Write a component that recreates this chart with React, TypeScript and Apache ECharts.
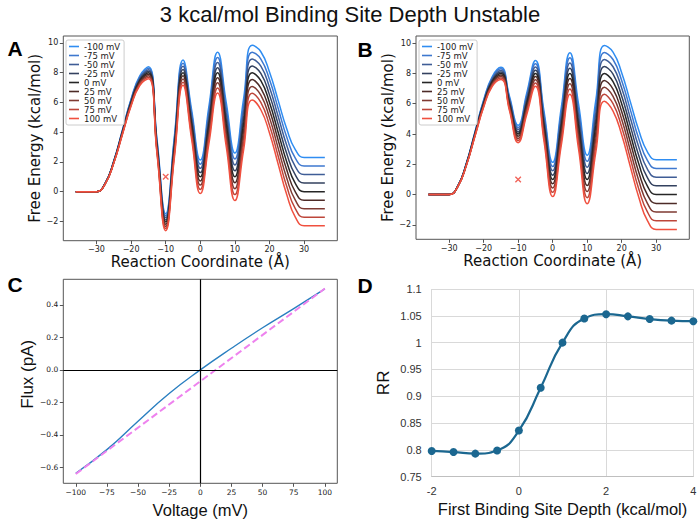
import React, { useEffect, useRef } from 'react';
import * as echarts from 'echarts';

// ---------- Panel A / B : free-energy profiles ----------
const reactionCoord = [-36, -33, -30, -27.5, -25, -22.5, -20, -17.5, -15, -12.5, -10, -7.5, -5, -2.5, 0, 2.5, 5, 7.5, 10, 12.5, 15, 17.5, 20, 22.5, 25, 27.5, 30, 33, 36];

const voltageLabels = ['-100 mV', '-75 mV', '-50 mV', '-25 mV', '0 mV', '25 mV', '50 mV', '75 mV', '100 mV'];
const voltageColors = ['#2f8df2', '#3e78cf', '#3f5d96', '#33415f', '#262626', '#4d2b27', '#7f3a32', '#bd463a', '#f0503f'];

const energyA_m100 = [0, 0, 0, 0.57, 2.08, 4.15, 6.24, 7.79, 8.4, 3.46, -1.48, 3.69, 8.85, 5.49, 2.13, 5.75, 9.37, 5.99, 2.6, 6.22, 9.84, 9.41, 8.05, 6.14, 4.21, 2.81, 2.3, 2.3, 2.3];
const energyA_m75 = [0, 0, 0, 0.56, 2.06, 4.11, 6.18, 7.7, 8.3, 3.34, -1.62, 3.51, 8.64, 5.24, 1.85, 5.44, 9.03, 5.61, 2.2, 5.79, 9.38, 8.92, 7.54, 5.61, 3.66, 2.24, 1.73, 1.73, 1.73];
const energyA_m50 = [0, 0, 0, 0.55, 2.04, 4.08, 6.12, 7.62, 8.2, 3.22, -1.76, 3.34, 8.43, 5.0, 1.57, 5.13, 8.69, 5.24, 1.8, 5.36, 8.92, 8.44, 7.03, 5.07, 3.11, 1.67, 1.15, 1.15, 1.15];
const energyA_m25 = [0, 0, 0, 0.55, 2.02, 4.04, 6.06, 7.54, 8.1, 3.1, -1.91, 3.16, 8.21, 4.75, 1.28, 4.81, 8.34, 4.87, 1.4, 4.93, 8.46, 7.95, 6.51, 4.54, 2.55, 1.11, 0.58, 0.58, 0.58];
const energyA_0 = [0, 0, 0, 0.54, 2.0, 4.0, 6.0, 7.46, 8.0, 2.98, -2.05, 2.98, 8.0, 4.5, 1.0, 4.5, 8.0, 4.5, 1.0, 4.5, 8.0, 7.46, 6.0, 4.0, 2.0, 0.54, 0, 0, 0];
const energyA_p25 = [0, 0, 0, 0.53, 1.98, 3.96, 5.94, 7.38, 7.9, 2.86, -2.19, 2.8, 7.79, 4.25, 0.72, 4.19, 7.66, 4.13, 0.6, 4.07, 7.54, 6.97, 5.49, 3.47, 1.45, -0.03, -0.58, -0.58, -0.58];
const energyA_p50 = [0, 0, 0, 0.53, 1.96, 3.93, 5.88, 7.3, 7.8, 2.74, -2.34, 2.63, 7.58, 4.01, 0.44, 3.88, 7.32, 3.76, 0.2, 3.64, 7.08, 6.49, 4.98, 2.93, 0.9, -0.59, -1.15, -1.15, -1.15];
const energyA_p75 = [0, 0, 0, 0.52, 1.94, 3.89, 5.82, 7.22, 7.7, 2.62, -2.48, 2.45, 7.36, 3.76, 0.15, 3.56, 6.97, 3.39, -0.2, 3.21, 6.62, 6.0, 4.46, 2.4, 0.34, -1.16, -1.73, -1.73, -1.73];
const energyA_p100 = [0, 0, 0, 0.52, 1.93, 3.85, 5.76, 7.14, 7.6, 2.51, -2.63, 2.27, 7.15, 3.51, -0.13, 3.25, 6.63, 3.02, -0.6, 2.78, 6.16, 5.51, 3.95, 1.86, -0.21, -1.73, -2.3, -2.3, -2.3];

const energyB_m100 = [0, 0, 0, 0.57, 2.08, 4.15, 6.24, 7.79, 8.4, 6.48, 4.58, 6.71, 8.85, 5.49, 2.13, 5.75, 9.37, 5.99, 2.6, 6.22, 9.84, 9.41, 8.05, 6.14, 4.21, 2.81, 2.3, 2.3, 2.3];
const energyB_m75 = [0, 0, 0, 0.56, 2.06, 4.11, 6.18, 7.7, 8.3, 6.36, 4.43, 6.53, 8.64, 5.24, 1.85, 5.44, 9.03, 5.61, 2.2, 5.79, 9.38, 8.92, 7.54, 5.61, 3.66, 2.24, 1.73, 1.73, 1.73];
const energyB_m50 = [0, 0, 0, 0.55, 2.04, 4.08, 6.12, 7.62, 8.2, 6.24, 4.29, 6.36, 8.43, 5.0, 1.57, 5.13, 8.69, 5.24, 1.8, 5.36, 8.92, 8.44, 7.03, 5.07, 3.11, 1.67, 1.15, 1.15, 1.15];
const energyB_m25 = [0, 0, 0, 0.55, 2.02, 4.04, 6.06, 7.54, 8.1, 6.12, 4.14, 6.18, 8.21, 4.75, 1.28, 4.81, 8.34, 4.87, 1.4, 4.93, 8.46, 7.95, 6.51, 4.54, 2.55, 1.11, 0.58, 0.58, 0.58];
const energyB_0 = [0, 0, 0, 0.54, 2.0, 4.0, 6.0, 7.46, 8.0, 6.0, 4.0, 6.0, 8.0, 4.5, 1.0, 4.5, 8.0, 4.5, 1.0, 4.5, 8.0, 7.46, 6.0, 4.0, 2.0, 0.54, 0, 0, 0];
const energyB_p25 = [0, 0, 0, 0.53, 1.98, 3.96, 5.94, 7.38, 7.9, 5.88, 3.86, 5.82, 7.79, 4.25, 0.72, 4.19, 7.66, 4.13, 0.6, 4.07, 7.54, 6.97, 5.49, 3.47, 1.45, -0.03, -0.58, -0.58, -0.58];
const energyB_p50 = [0, 0, 0, 0.53, 1.96, 3.93, 5.88, 7.3, 7.8, 5.76, 3.71, 5.65, 7.58, 4.01, 0.44, 3.88, 7.32, 3.76, 0.2, 3.64, 7.08, 6.49, 4.98, 2.93, 0.9, -0.59, -1.15, -1.15, -1.15];
const energyB_p75 = [0, 0, 0, 0.52, 1.94, 3.89, 5.82, 7.22, 7.7, 5.64, 3.57, 5.47, 7.36, 3.76, 0.15, 3.56, 6.97, 3.39, -0.2, 3.21, 6.62, 6.0, 4.46, 2.4, 0.34, -1.16, -1.73, -1.73, -1.73];
const energyB_p100 = [0, 0, 0, 0.52, 1.93, 3.85, 5.76, 7.14, 7.6, 5.53, 3.43, 5.29, 7.15, 3.51, -0.13, 3.25, 6.63, 3.02, -0.6, 2.78, 6.16, 5.51, 3.95, 1.86, -0.21, -1.73, -2.3, -2.3, -2.3];

const energyA = [energyA_m100, energyA_m75, energyA_m50, energyA_m25, energyA_0, energyA_p25, energyA_p50, energyA_p75, energyA_p100];
const energyB = [energyB_m100, energyB_m75, energyB_m50, energyB_m25, energyB_0, energyB_p25, energyB_p50, energyB_p75, energyB_p100];

const markerPoint = [[-10, 1]];
const coordTicks = [-30, -20, -10, 0, 10, 20, 30];
const energyTicks = [-2, 0, 2, 4, 6, 8, 10];

// ---------- Panel C : I-V ----------
const voltage = [-100, -75, -50, -25, 0, 25, 50, 75, 100];
const fluxModel = [-0.635, -0.49, -0.315, -0.145, 0.0, 0.133, 0.259, 0.377, 0.498];
const fluxLinearV = [-100, 100];
const fluxLinear = [-0.64, 0.5];
const voltageTicks = [-100, -75, -50, -25, 0, 25, 50, 75, 100];
const fluxTicks = [-0.6, -0.4, -0.2, 0.0, 0.2, 0.4];

// ---------- Panel D : RR ----------
const depth = [-2, -1.5, -1, -0.5, 0, 0.5, 1, 1.5, 2, 2.5, 3, 3.5, 4];
const rr = [0.798, 0.796, 0.793, 0.799, 0.836, 0.916, 1.0, 1.045, 1.053, 1.049, 1.044, 1.041, 1.04];

const MPL = 'DejaVu Sans';
const ARIAL = 'Liberation Sans, Arial, Helvetica, sans-serif';
const FRAME = '#555555';
const minusFmt = (v: number) => String(v).replace('-', '\u2212');

function mplXAxis(gridIndex: number, min: number, max: number, ticks: number[], name: string, nameGap: number, fmt: any, tickFont: number, nameFont: string, nameSize: number) {
  return {
    type: 'value', gridIndex, min, max,
    axisLine: { show: false, onZero: false },
    splitLine: { show: false },
    axisTick: { show: true, length: 3.5, lineStyle: { color: FRAME, width: 1 }, customValues: ticks },
    axisLabel: { customValues: ticks, formatter: fmt, fontFamily: MPL, fontSize: tickFont, color: '#222', margin: 5 },
    name, nameLocation: 'middle', nameGap,
    nameTextStyle: { fontFamily: nameFont, fontSize: nameSize, color: '#111' },
  };
}
function mplYAxis(gridIndex: number, min: number, max: number, ticks: number[], name: string, nameGap: number, fmt: any, tickFont: number, nameFont: string, nameSize: number, namePad?: number[]) {
  return {
    type: 'value', gridIndex, min, max,
    axisLine: { show: false, onZero: false },
    splitLine: { show: false },
    axisTick: { show: true, length: 3.5, lineStyle: { color: FRAME, width: 1 }, customValues: ticks },
    axisLabel: { customValues: ticks, formatter: fmt, fontFamily: MPL, fontSize: tickFont, color: '#222', margin: 5 },
    name, nameLocation: 'middle', nameGap, nameRotate: 90,
    nameTextStyle: { fontFamily: nameFont, fontSize: nameSize, color: '#111', padding: namePad || 0 },
  };
}

function legendFor(left: number) {
  return {
    left, top: 40, orient: 'vertical', data: voltageLabels, icon: 'rect',
    itemWidth: 10, itemHeight: 1.6, itemGap: 0, padding: [2, 4, 2, 3],
    selectedMode: false,
    textStyle: { fontFamily: MPL, fontSize: 8.5, lineHeight: 8.8, color: '#222' },
    borderColor: '#cccccc', borderWidth: 1, borderRadius: 2, backgroundColor: '#ffffff',
  };
}

export default function App() {
  const ref = useRef<HTMLDivElement>(null);
  useEffect(() => {
    if (!ref.current) return;
    document.body.style.margin = '0';
    const chart = echarts.init(ref.current, null, { renderer: 'svg' });

    const series: any[] = [];
    const addProfiles = (profiles: number[][], axisIndex: number) => {
      profiles.forEach((arr, i) => {
        series.push({
          type: 'line', name: voltageLabels[i], xAxisIndex: axisIndex, yAxisIndex: axisIndex,
          data: reactionCoord.map((x, j) => [x, arr[j]]),
          smooth: 0.5, symbol: 'none', color: voltageColors[i],
          itemStyle: { color: voltageColors[i] },
          lineStyle: { width: 1.5, color: voltageColors[i] },
        });
      });
      series.push({
        type: 'scatter', xAxisIndex: axisIndex, yAxisIndex: axisIndex, data: markerPoint,
        symbol: 'path://M0,0L10,10M10,0L0,10', symbolSize: 5.5,
        itemStyle: { color: 'transparent', borderColor: '#ee3b2e', borderWidth: 1.3 },
      });
    };
    addProfiles(energyA, 0);
    addProfiles(energyB, 1);

    series.push({
      type: 'line', xAxisIndex: 2, yAxisIndex: 2,
      data: voltage.map((v, i) => [v, fluxModel[i]]),
      smooth: 0.5, symbol: 'none', lineStyle: { width: 1.4, color: '#2a7fc0' }, itemStyle: { color: '#2a7fc0' },
      markLine: {
        silent: true, symbol: ['none', 'none'], label: { show: false },
        lineStyle: { color: '#000', width: 1.2, type: 'solid' },
        data: [{ xAxis: 0 }, { yAxis: 0 }],
      },
    });
    series.push({
      type: 'line', xAxisIndex: 2, yAxisIndex: 2,
      data: fluxLinearV.map((v, i) => [v, fluxLinear[i]]),
      symbol: 'none', lineStyle: { width: 2, color: '#ee82ee', type: [7, 3.5] }, itemStyle: { color: '#ee82ee' },
    });

    series.push({
      type: 'line', xAxisIndex: 3, yAxisIndex: 3,
      data: depth.map((d, i) => [d, rr[i]]),
      smooth: 0.5, symbol: 'circle', symbolSize: 8, showSymbol: true,
      lineStyle: { width: 2.2, color: '#1b6790' }, itemStyle: { color: '#1b6790' },
    });

    const gridBox = { show: true, borderColor: FRAME, borderWidth: 1, backgroundColor: 'transparent', containLabel: false, outerBoundsMode: 'none' };

    chart.setOption({
      animation: false,
      grid: [
        { ...gridBox, left: 63.3, top: 36, width: 274, height: 204.7 },
        { ...gridBox, left: 416, top: 36, width: 273.3, height: 203.3 },
        { ...gridBox, left: 63.3, top: 279.3, width: 274, height: 204 },
        { show: false, containLabel: false, outerBoundsMode: 'none', left: 431.7, top: 289, width: 261.6, height: 187.7 },
      ],
      legend: [legendFor(66), legendFor(419)],
      xAxis: [
        mplXAxis(0, -39.6, 39.6, coordTicks, 'Reaction Coordinate (Å)', 13.5, minusFmt, 8, MPL, 15),
        mplXAxis(1, -39.6, 39.6, coordTicks, 'Reaction Coordinate (Å)', 13.5, minusFmt, 8, MPL, 15),
        mplXAxis(2, -110, 110, voltageTicks, 'Voltage (mV)', 18, minusFmt, 7.5, ARIAL, 16.5),
        {
          type: 'value', gridIndex: 3, min: -2, max: 4, interval: 2,
          axisLine: { show: true, onZero: false, lineStyle: { color: '#bfbfbf', width: 1 } },
          axisTick: { show: false },
          splitLine: { show: true, lineStyle: { color: '#d9d9d9', width: 1 } },
          axisLabel: { fontFamily: ARIAL, fontSize: 11, color: '#333', margin: 9 },
          name: 'First Binding Site Depth (kcal/mol)', nameLocation: 'middle', nameGap: 24,
          nameTextStyle: { fontFamily: ARIAL, fontSize: 16.5, color: '#111' },
        },
      ],
      yAxis: [
        mplYAxis(0, -3.3, 10.47, energyTicks, 'Free Energy (kcal/mol)', 17.8, minusFmt, 8, MPL, 15),
        mplYAxis(1, -2.95, 10.47, energyTicks, 'Free Energy (kcal/mol)', 18.5, minusFmt, 8, MPL, 15),
        mplYAxis(2, -0.697, 0.557, fluxTicks, 'Flux (pA)', 27.8, (v: number) => v.toFixed(1).replace('-', '\u2212'), 7.5, ARIAL, 17, [0, 0, 0, 14]),
        {
          type: 'value', gridIndex: 3, min: 0.75, max: 1.1, interval: 0.05,
          axisLine: { show: false, onZero: false },
          axisTick: { show: false },
          splitLine: { show: true, lineStyle: { color: '#d9d9d9', width: 1 } },
          axisLabel: { fontFamily: ARIAL, fontSize: 11, color: '#333', margin: 10 },
          name: 'RR', nameLocation: 'middle', nameGap: 40, nameRotate: 90,
          nameTextStyle: { fontFamily: ARIAL, fontSize: 17, color: '#111' },
        },
      ],
      graphic: [
        { type: 'text', x: 350, y: 14, style: { text: '3 kcal/mol Binding Site Depth Unstable', fontFamily: ARIAL, fontSize: 22, fill: '#111', align: 'center', verticalAlign: 'middle', textAlign: 'center', textVerticalAlign: 'middle' } },
        { type: 'text', x: 15, y: 48, style: { text: 'A', fontFamily: ARIAL, fontSize: 21, fontWeight: 'bold', fill: '#000', align: 'center', verticalAlign: 'middle', textAlign: 'center', textVerticalAlign: 'middle' } },
        { type: 'text', x: 365, y: 49, style: { text: 'B', fontFamily: ARIAL, fontSize: 21, fontWeight: 'bold', fill: '#000', align: 'center', verticalAlign: 'middle', textAlign: 'center', textVerticalAlign: 'middle' } },
        { type: 'text', x: 15, y: 284, style: { text: 'C', fontFamily: ARIAL, fontSize: 21, fontWeight: 'bold', fill: '#000', align: 'center', verticalAlign: 'middle', textAlign: 'center', textVerticalAlign: 'middle' } },
        { type: 'text', x: 365, y: 285.5, style: { text: 'D', fontFamily: ARIAL, fontSize: 21, fontWeight: 'bold', fill: '#000', align: 'center', verticalAlign: 'middle', textAlign: 'center', textVerticalAlign: 'middle' } },
      ],
      series,
    });
    return () => chart.dispose();
  }, []);
  return <div ref={ref} style={{ position: 'absolute', left: 0, top: 0, width: 700, height: 527, background: '#fff' }} />;
}
